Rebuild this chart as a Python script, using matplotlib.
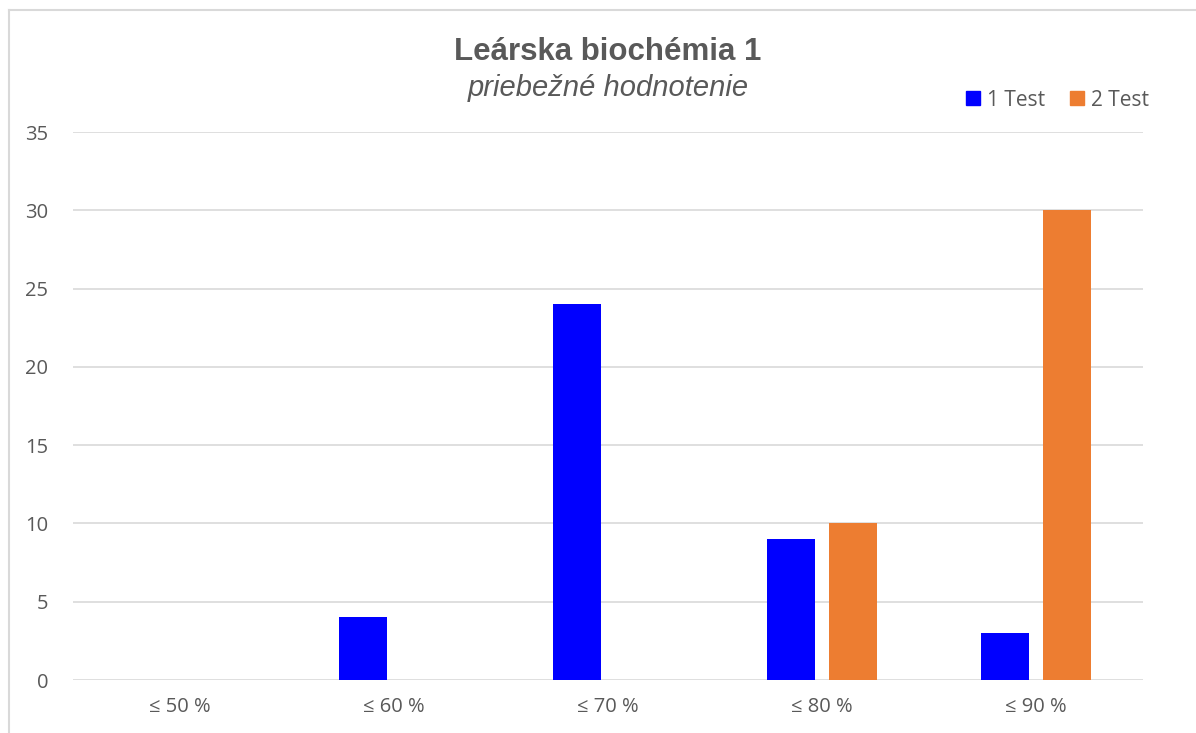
import numpy as np
import matplotlib.pyplot as plt
from matplotlib.lines import Line2D
from matplotlib.patches import Patch

categories = ['≤ 50 %', '≤ 60 %', '≤ 70 %', '≤ 80 %', '≤ 90 %']
test1 = [0, 4, 24, 9, 3]
test2 = [0, 0, 0, 10, 30]
yticks = [0, 5, 10, 15, 20, 25, 30, 35]

blue = '#0000ff'
orange = '#ed7d31'
grey = '#595959'
grid = '#d9d9d9'

plt.rcParams['font.family'] = ['Open Sans', 'DejaVu Sans']

fig = plt.figure(figsize=(11.96, 7.33), dpi=100)
ax = fig.add_axes([73 / 1196, 1 - 680 / 733, (1143 - 73) / 1196, (680 - 132) / 733])

x = np.arange(len(categories))
w = 0.224
off = 0.143
ax.bar(x - off, test1, width=w, color=blue, label='1 Test', zorder=3)
ax.bar(x + off, test2, width=w, color=orange, label='2 Test', zorder=3)

ax.set_xlim(-0.5, len(categories) - 0.5)
ax.set_ylim(0, 35)
ax.set_yticks(yticks)
ax.set_xticks(x)
ax.set_xticklabels(categories)
ax.yaxis.grid(True, color=grid, linewidth=1.2)
ax.set_axisbelow(True)
for s in ax.spines.values():
    s.set_visible(False)
ax.tick_params(axis='both', length=0, labelsize=14.5, colors=grey)
ax.tick_params(axis='x', pad=12)
ax.tick_params(axis='y', pad=18)

fig.text(0.5084, 1 - 52 / 733, 'Leárska biochémia 1', ha='center', va='center',
         fontsize=22.5, fontweight='bold', color=grey, family='Liberation Sans')
fig.text(0.5084, 1 - 88 / 733, 'priebežné hodnotenie', ha='center', va='center',
         fontsize=21, fontstyle='italic', color=grey, family='Liberation Sans')

handles = [Patch(color=blue), Patch(color=orange)]
fig.legend(handles, ['1 Test', '2 Test'], loc='center right', ncol=2,
           bbox_to_anchor=(1168 / 1196, 1 - 100 / 733), frameon=False,
           handlelength=0.65, handleheight=0.65, handletextpad=0.35,
           columnspacing=1.2, fontsize=15, labelcolor=grey)

# chart frame
fig.add_artist(Line2D([9 / 1196, 9 / 1196], [0, 1 - 10 / 733], color=grid, lw=1.5))
fig.add_artist(Line2D([9 / 1196, 1], [1 - 10 / 733, 1 - 10 / 733], color=grid, lw=1.5))

fig.savefig('out.png', dpi=100)
